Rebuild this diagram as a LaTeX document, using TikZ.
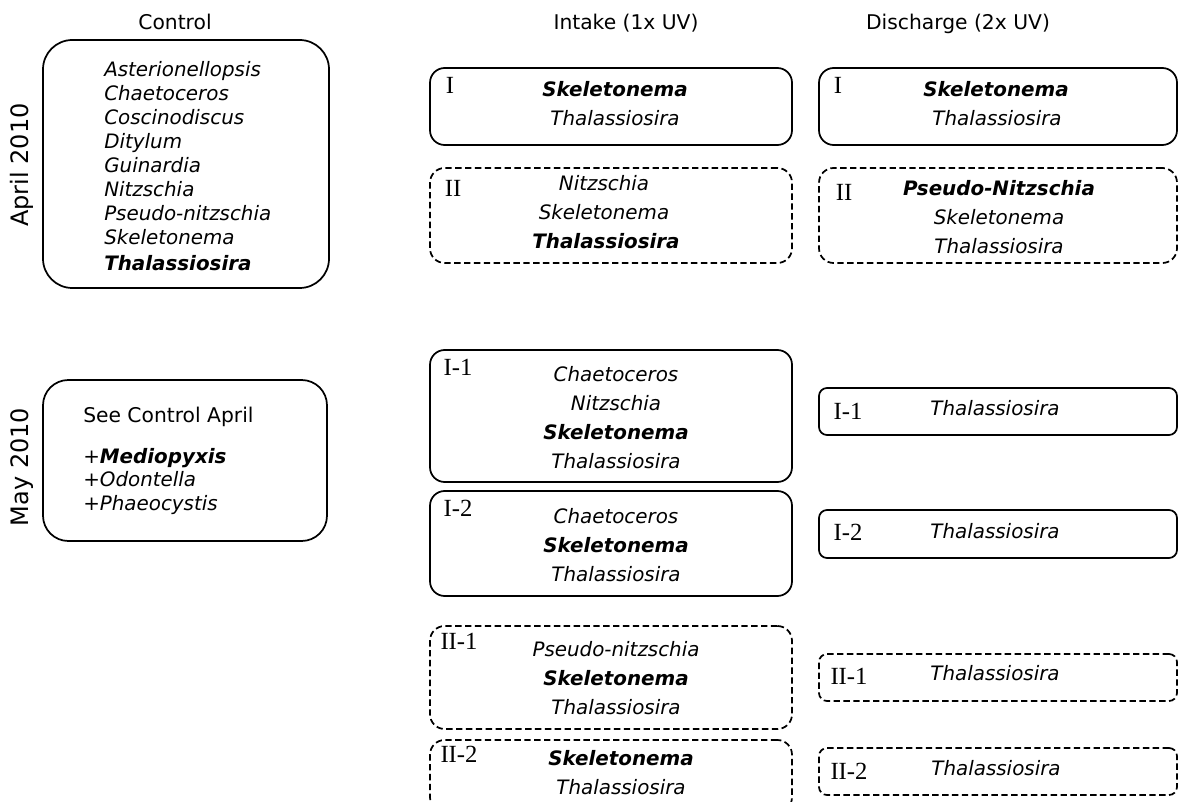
\documentclass[tikz,border=0pt]{standalone}
\usepackage{fontspec}
\setmainfont{DejaVu Sans}
\newfontfamily\lblfont{Liberation Serif}
\usetikzlibrary{fit}
\begin{document}
\begin{tikzpicture}[x=0.75pt,y=-0.75pt,
  box/.style={draw, line width=1.3pt, rounded corners=11pt, inner sep=0pt},
  dbox/.style={box, dash pattern=on 4.8pt off 2.6pt},
  big/.style={box, rounded corners=22pt},
  sml/.style={box, rounded corners=6pt},
  sdbox/.style={dbox, rounded corners=6pt},
  sp/.style={font=\fontsize{14.9}{17}\selectfont\itshape, inner sep=0pt, text height=10.7pt, text depth=0pt},
  spb/.style={sp, font=\fontsize{14.9}{17}\selectfont\bfseries\itshape},
  hdr/.style={font=\fontsize{15.2}{17}\selectfont, inner sep=0pt, text height=10.9pt, text depth=0pt},
  yr/.style={font=\fontsize{18}{20}\selectfont, rotate=90, inner sep=0pt},
  lbl/.style={font=\lblfont\fontsize{18.5}{20}\selectfont, inner sep=0pt, text height=12.2pt, text depth=0pt}
]
\useasboundingbox (0,0) rectangle (1178,802);
\clip (0,0) rectangle (1178,802);

% headers
\node[hdr] (hc) at (175,22) {Control};
\node[hdr] (hi) at (626,22) {Intake (1x UV)};
\node[hdr] (hd) at (958,22) {Discharge (2x UV)};
\node[yr] (apr) at (22,165) {April 2010};
\node[yr] (may) at (22,467) {May 2010};

% control april
\node[big, fit={(43,40) (329,288)}] (ca) {};
\node[sp, anchor=west] (ca1) at (104,69) {Asterionellopsis};
\node[sp, anchor=west] (ca2) at (104,93) {Chaetoceros};
\node[sp, anchor=west] (ca3) at (104,117) {Coscinodiscus};
\node[sp, anchor=west] (ca4) at (104,141) {Ditylum};
\node[sp, anchor=west] (ca5) at (104,165) {Guinardia};
\node[sp, anchor=west] (ca6) at (104,189) {Nitzschia};
\node[sp, anchor=west] (ca7) at (104,213) {Pseudo-nitzschia};
\node[sp, anchor=west] (ca8) at (104,237) {Skeletonema};
\node[spb, anchor=west] (ca9) at (104,263) {Thalassiosira};

% intake april
\node[box, fit={(430,68) (792,145)}] (ia1) {};
\node[lbl] (ia1l) at (450,85) {I};
\node[spb] (ia1a) at (615,89) {Skeletonema};
\node[sp] (ia1b) at (615,118) {Thalassiosira};

\node[dbox, fit={(430,168) (792,263)}] (ia2) {};
\node[lbl] (ia2l) at (453,188) {II};
\node[sp] (ia2a) at (604,183) {Nitzschia};
\node[sp] (ia2b) at (604,212) {Skeletonema};
\node[spb] (ia2c) at (606,241) {Thalassiosira};

% discharge april
\node[box, fit={(819,68) (1177,145)}] (da1) {};
\node[lbl] (da1l) at (838,85) {I};
\node[spb] (da1a) at (996,89) {Skeletonema};
\node[sp] (da1b) at (997,118) {Thalassiosira};

\node[dbox, fit={(819,168) (1177,263)}] (da2) {};
\node[lbl] (da2l) at (844,192) {II};
\node[spb] (da2a) at (999,188) {Pseudo-Nitzschia};
\node[sp] (da2b) at (999,217) {Skeletonema};
\node[sp] (da2c) at (999,246) {Thalassiosira};

% control may
\node[big, rounded corners=19pt, fit={(43,380) (327,541)}] (cm) {};
\node[hdr, anchor=west] (cm1) at (83,415) {See Control April};
\node[sp, anchor=west] (cm2) at (83,456) {\upshape+\bfseries\itshape Mediopyxis};
\node[sp, anchor=west] (cm3) at (83,479) {\upshape+\itshape Odontella};
\node[sp, anchor=west] (cm4) at (83,503) {\upshape+\itshape Phaeocystis};

% intake may
\node[box, fit={(430,350) (792,482)}] (im1) {};
\node[lbl] (im1l) at (458,367) {I-1};
\node[sp] (im1a) at (616,374) {Chaetoceros};
\node[sp] (im1b) at (616,403) {Nitzschia};
\node[spb] (im1c) at (616,432) {Skeletonema};
\node[sp] (im1d) at (616,461) {Thalassiosira};

\node[box, fit={(430,491) (792,596)}] (im2) {};
\node[lbl] (im2l) at (458,508) {I-2};
\node[sp] (im2a) at (616,516) {Chaetoceros};
\node[spb] (im2b) at (616,545) {Skeletonema};
\node[sp] (im2c) at (616,574) {Thalassiosira};

\node[dbox, fit={(430,626) (792,729)}] (im3) {};
\node[lbl] (im3l) at (459,641) {II-1};
\node[sp] (im3a) at (616,649) {Pseudo-nitzschia};
\node[spb] (im3b) at (616,678) {Skeletonema};
\node[sp] (im3c) at (616,707) {Thalassiosira};

\node[dbox, fit={(430,740) (792,812)}] (im4) {};
\node[lbl] (im4l) at (459,754) {II-2};
\node[spb] (im4a) at (621,758) {Skeletonema};
\node[sp] (im4b) at (621,787) {Thalassiosira};

% discharge may
\node[sml, fit={(819,388) (1177,435)}] (dm1) {};
\node[lbl] (dm1l) at (848,411) {I-1};
\node[sp] (dm1a) at (995,408) {Thalassiosira};

\node[sml, fit={(819,510) (1177,558)}] (dm2) {};
\node[lbl] (dm2l) at (848,532) {I-2};
\node[sp] (dm2a) at (995,531) {Thalassiosira};

\node[sdbox, fit={(819,654) (1177,701)}] (dm3) {};
\node[lbl] (dm3l) at (849,676) {II-1};
\node[sp] (dm3a) at (995,673) {Thalassiosira};

\node[sdbox, fit={(819,748) (1177,795)}] (dm4) {};
\node[lbl] (dm4l) at (849,771) {II-2};
\node[sp] (dm4a) at (996,768) {Thalassiosira};
\end{tikzpicture}
\end{document}
